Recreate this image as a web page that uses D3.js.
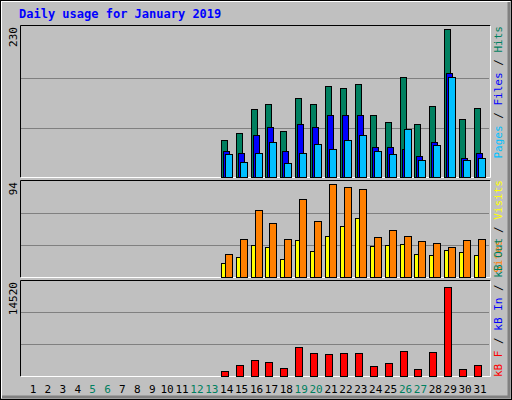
<!DOCTYPE html>
<html><head><meta charset="utf-8">
<script src="https://cdn.jsdelivr.net/npm/d3@7"></script>
<style>body{margin:0;background:#fff}text{font-family:"DejaVu Sans Mono",monospace}</style>
</head><body>
<script>
// Data
var days = d3.range(1, 32);
var weekends = [5, 6, 12, 13, 19, 20, 26, 27];
var dataDays = d3.range(14, 32);
var hits   = [58, 68, 105, 114, 71, 122, 114, 141, 139, 144, 97, 85, 155, 82, 111, 230, 90, 107];
var files  = [40, 38, 66, 77, 40, 82, 77, 97, 96, 96, 46, 46, 43, 32, 55, 161, 30, 38];
var pages  = [36, 24, 38, 55, 22, 38, 52, 44, 58, 65, 40, 35, 74, 26, 49, 155, 26, 30];
var sites  = [23, 37, 66, 53, 37, 76, 55, 91, 88, 86, 39, 46, 40, 35, 33, 29, 36, 37];
var visits = [14, 20, 31, 29, 18, 36, 25, 40, 50, 58, 30, 31, 32, 23, 22, 26, 24, 22];
var kbytes = [782, 1662, 2396, 2102, 1222, 4449, 3422, 3275, 3422, 3422, 1516, 1956, 3716, 1076, 3569, 13396, 1076, 1662];
var maxHits = 230, maxSites = 94, maxKB = 14520;

var W = 512, H = 400;
var svg = d3.select('body').append('svg').attr('width', W).attr('height', H);

// frame
svg.append('rect').attr('width', W).attr('height', H).attr('fill', '#c0c0c0');
svg.append('path').attr('d', 'M1,398V1H510').attr('stroke', '#fff').attr('stroke-width', 2).attr('fill', 'none');
svg.append('path').attr('d', 'M2,397H509V2').attr('stroke', '#808080').attr('stroke-width', 3).attr('fill', 'none');
svg.append('rect').attr('x', 0.5).attr('y', 0.5).attr('width', W - 1).attr('height', H - 1)
	.attr('fill', 'none').attr('stroke', '#000');

svg.append('text').attr('x', 19).attr('y', 18).attr('fill', '#0000ff')
	.style('font-size', '12px').style('font-weight', 'bold')
	.text('Daily usage for January 2019');

var x = d3.scaleLinear().domain([1, 31]).range([33, 480]);

// panel frame + gridlines; scale top may sit a few px below frame top
function panel(top, bottom, scaleTop, max, label) {
	var y = d3.scaleLinear().domain([0, max]).range([bottom, scaleTop]);
	var g = svg.append('g');
	[max / 3, max * 2 / 3].forEach(function(v){
		g.append('line').attr('x1', 21).attr('x2', 489).attr('y1', Math.round(y(v)) + 0.5).attr('y2', Math.round(y(v)) + 0.5)
			.attr('stroke', '#808080');
	});
	g.append('path').attr('d', 'M20.5,' + (bottom + 0.5) + 'V' + (top + 0.5) + 'H490.5')
		.attr('stroke', '#000').attr('fill', 'none');
	g.append('path').attr('d', 'M20.5,' + (bottom + 0.5) + 'H490.5V' + (top + 0.5))
		.attr('stroke', '#fff').attr('fill', 'none');
	g.append('text').attr('transform', 'translate(17,' + (top + 2) + ') rotate(-90)')
		.attr('text-anchor', 'end').style('font-size', '11px').attr('fill', '#000').text(label);
	return y;
}

function bars(y, vals, off, w, color) {
	svg.append('g').selectAll('rect').data(vals).enter().append('rect')
		.attr('x', function(d, i){ return Math.round(x(dataDays[i])) - 6 + off + 0.5; })
		.attr('y', function(d){ return Math.round(y(d)) + 0.5; })
		.attr('width', w)
		.attr('height', function(d){ return Math.round(y(0)) - Math.round(y(d)); })
		.attr('fill', color).attr('stroke', '#000');
}

var y1 = panel(25, 177, 29, maxHits, '230');
bars(y1, hits, 0, 6, '#008060');
bars(y1, files, 2, 6, '#0000ff');
bars(y1, pages, 4, 7, '#00c0ff');

var y2 = panel(180, 277, 181, maxSites, '94');
bars(y2, visits, 0, 4, '#ffff00');
bars(y2, sites, 4, 7, '#ff8000');

var y3 = panel(280, 376, 280, maxKB, '14520');
bars(y3, kbytes, 0, 7, '#ff0000');

// day labels
svg.append('g').selectAll('text').data(days).enter().append('text')
	.attr('x', function(d){ return x(d); }).attr('y', 393)
	.attr('text-anchor', 'middle').style('font-size', '11px')
	.attr('fill', function(d){ return weekends.indexOf(d) >= 0 ? '#008060' : '#000'; })
	.text(function(d){ return d; });

// right legends
function legend(yPos, anchor, parts) {
	var t = svg.append('text').attr('transform', 'translate(502,' + yPos + ') rotate(-90)')
		.attr('text-anchor', anchor).style('font-size', '11px');
	parts.forEach(function(p){ t.append('tspan').attr('fill', p[1]).text(p[0]); });
}
legend(26, 'end', [['Pages', '#00c0ff'], [' / ', '#000'], ['Files', '#0000ff'], [' / ', '#000'], ['Hits', '#008060']]);
legend(180, 'end', [['Sites', '#ff8000'], [' / ', '#000'], ['Visits', '#ffff00']]);
legend(377, 'start', [['kB F', '#ff0000'], [' / ', '#000'], ['kB In', '#0000ff'], [' / ', '#000'], ['kB Out', '#008060']]);
</script>
</body></html>
